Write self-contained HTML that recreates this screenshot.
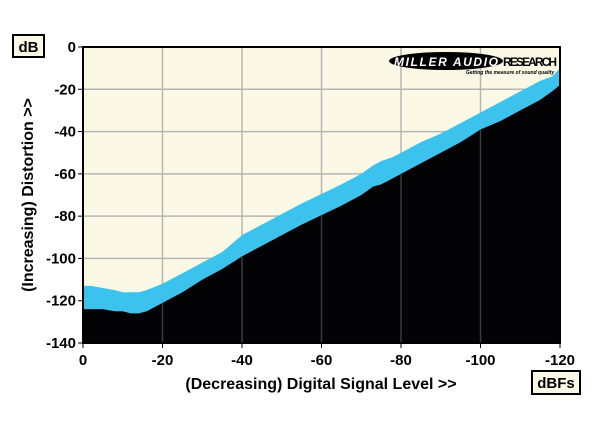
<!DOCTYPE html>
<html><head><meta charset="utf-8"><style>
body{margin:0;background:#fff;width:600px;height:425px;overflow:hidden}
svg{display:block}
text{font-family:"Liberation Sans",Arial,sans-serif;font-weight:bold}
</style></head><body>
<svg id="chart" width="600" height="425">
<g id="plot"></g>
</svg>
<script>
const levels=[0,-2,-5,-8,-10,-12,-14,-16,-20,-25,-30,-35,-40,-45,-50,-55,-60,-65,-70,-73,-75,-78,-80,-85,-90,-95,-100,-105,-110,-115,-118,-120];
const upper=[-113,-113,-114,-115,-116,-116,-116,-115,-112,-107,-102,-97,-89,-84,-79,-74,-69.5,-65,-60,-56,-54,-52,-50,-45,-41,-36,-31,-26,-21,-16,-14,-10];
const lower=[-124,-124,-124,-125,-125,-126,-126,-125,-121,-116,-110,-105,-99,-94,-89,-84,-79.5,-75,-70,-66,-65,-62,-60,-55,-50,-45,-39,-35,-30,-25,-21,-18];
const xTicks=[0,-20,-40,-60,-80,-100,-120];
const yTicks=[0,-20,-40,-60,-80,-100,-120,-140];
const L=83,R=560,T=47,B=343;
const sx=v=>L+(v/-120)*(R-L);
const sy=v=>T+(v/-140)*(B-T);
const NS="http://www.w3.org/2000/svg";
const svg=document.getElementById('chart');
function mk(t,a,p){const e=document.createElementNS(NS,t);for(const k in a)e.setAttribute(k,a[k]);(p||svg).appendChild(e);return e;}
let e;
e=mk('rect',{x:L,y:T,width:R-L,height:B-T,fill:'#fbf9e6'});


// grid
xTicks.forEach(v=>{e=mk('line',{x1:sx(v),x2:sx(v),y1:T,y2:B,stroke:'#b5b5b5','stroke-width':1.5});

});
yTicks.forEach(v=>{e=mk('line',{x1:L,x2:R,y1:sy(v),y2:sy(v),stroke:'#b5b5b5','stroke-width':1.5});

});
// blue band
let d='M'+levels.map((v,i)=>sx(v)+','+sy(upper[i])).join('L');
for(let i=levels.length-1;i>=0;i--)d+='L'+sx(levels[i])+','+sy(lower[i]);
e=mk('path',{d:d+'Z',fill:'#3bc3ee'});


// black floor
d='M'+levels.map((v,i)=>sx(v)+','+sy(lower[i])).join('L')+'L'+sx(-120)+','+B+'L'+L+','+B+'Z';
e=mk('path',{d:d,fill:'#030305'});


// dark grid over black
xTicks.forEach((v,i)=>{e=mk('line',{x1:sx(v),x2:sx(v),y1:sy(lower[levels.indexOf(v)]!==undefined?lower[levels.indexOf(v)]:-140),y2:B,stroke:'#3a3a3a','stroke-width':1.5});

});
e=mk('rect',{x:L,y:T,width:R-L,height:B-T,fill:'none',stroke:'#000','stroke-width':2});


xTicks.forEach(v=>{e=mk('line',{x1:sx(v),x2:sx(v),y1:B,y2:B+5,stroke:'#000'});


e=mk('text',{x:sx(v),y:B+22,'text-anchor':'middle','font-size':15});e.textContent=v;

});
yTicks.forEach(v=>{e=mk('line',{x1:L-5,x2:L,y1:sy(v),y2:sy(v),stroke:'#000'});


e=mk('text',{x:L-7,y:sy(v)+5,'text-anchor':'end','font-size':15});e.textContent=v;

});
</script>
<svg style="position:absolute;left:0;top:0" width="600" height="425">
<g>
<ellipse cx="446" cy="61" rx="57" ry="9" fill="#000"/>
<text x="446" y="66" text-anchor="middle" font-size="12" fill="#fff" font-style="italic" textLength="104">MILLER AUDIO</text>
<text x="503" y="66" font-size="12" fill="#000" textLength="54">RESEARCH</text>
<text x="510" y="74" text-anchor="middle" font-size="5" fill="#000" font-style="italic">Getting the measure of sound quality</text>
</g>
<g>
<rect x="13" y="35" width="31" height="22" fill="#fbf9e6" stroke="#000" stroke-width="2"/>
<text x="28.5" y="52" text-anchor="middle" font-size="15">dB</text>
</g>
<g>
<rect x="532" y="371" width="48" height="23" fill="#fbf9e6" stroke="#000" stroke-width="2"/>
<text x="556" y="388" text-anchor="middle" font-size="15">dBFs</text>
</g>
<text x="321" y="389" text-anchor="middle" font-size="16">(Decreasing) Digital Signal Level &gt;&gt;</text>
<text transform="translate(33,195) rotate(-90)" text-anchor="middle" font-size="16">(Increasing) Distortion &gt;&gt;</text>
</svg>
</body></html>
